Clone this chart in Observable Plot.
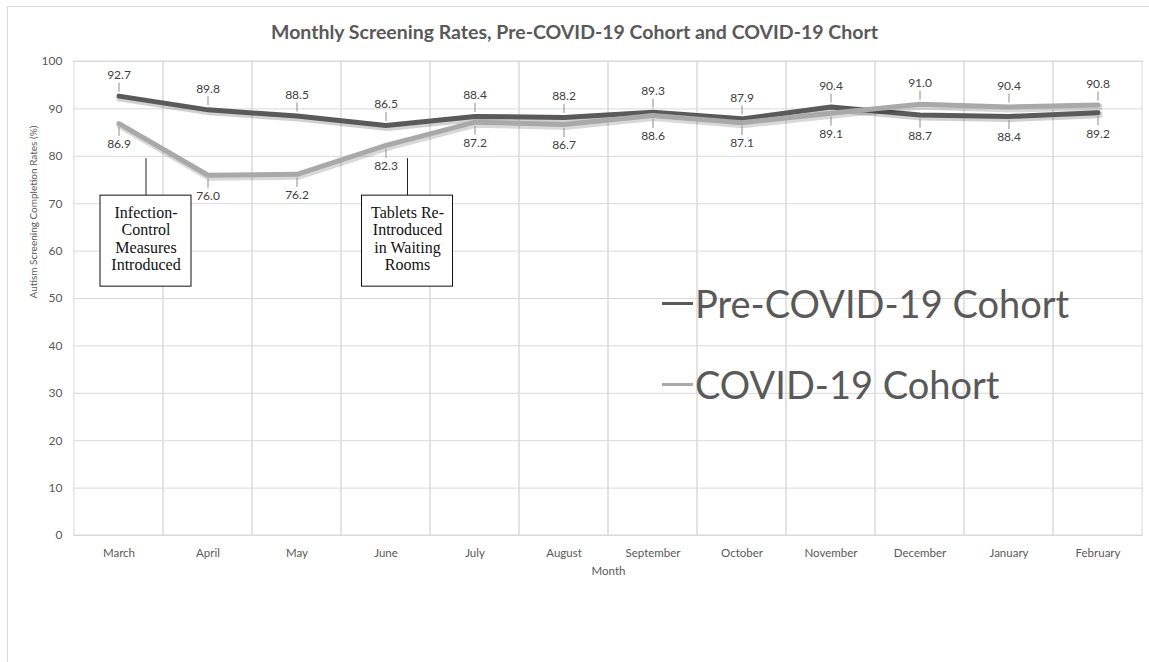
<!DOCTYPE html>
<html>
<head>
<meta charset="utf-8">
<script src="https://cdn.jsdelivr.net/npm/d3@7"></script>
<script src="https://cdn.jsdelivr.net/npm/@observablehq/plot@0.6"></script>
<style>
  body { margin: 0; background: #fff; }
  #wrap { position: relative; width: 1149px; height: 662px; overflow: hidden; background: #fff; font-family: Lato, "Open Sans", sans-serif; }
  #frame { position: absolute; left: 7px; top: 6px; width: 1200px; height: 700px; border: 1px solid #d9d9d9; box-sizing: border-box; }
  #title { position: absolute; left: 0; top: 20px; width: 1149px; text-align: center; font-weight: 700; font-size: 19.5px; color: #595959; line-height: 24px; }
  #chart { position: absolute; left: 0; top: 48px; }
  .leg { position: absolute; left: 662px; color: #595959; font-size: 38px; line-height: 46px; white-space: nowrap; display: flex; align-items: center; }
  .leg .sw { display: inline-block; width: 31px; height: 3px; margin-right: 2px; }
</style>
</head>
<body>
<div id="wrap">
  <div id="frame"></div>
  <div id="title"></div>
  <div id="chart"></div>
  <div id="legend"></div>
</div>
<script>
const chartTitle = "Monthly Screening Rates, Pre-COVID-19 Cohort and COVID-19 Chort";
const months = ["March", "April", "May", "June", "July", "August", "September", "October", "November", "December", "January", "February"];
const preCovid = [92.7, 89.8, 88.5, 86.5, 88.4, 88.2, 89.3, 87.9, 90.4, 88.7, 88.4, 89.2];
const covid = [86.9, 76.0, 76.2, 82.3, 87.2, 86.7, 88.6, 87.1, 89.1, 91.0, 90.4, 90.8];
const seriesNames = ["Pre-COVID-19 Cohort", "COVID-19 Cohort"];
const yTicks = [0, 10, 20, 30, 40, 50, 60, 70, 80, 90, 100];
const yLabel = "Autism Screening Completion Rates (%)";
const xLabel = "Month";
const annotationMonths = ["March", "June"];
const annotationTexts = ["Infection-\nControl\nMeasures\nIntroduced", "Tablets Re-\nIntroduced\nin Waiting\nRooms"];

const colors = ["#5a5a5a", "#a9a9a9"];
// annotation placement (style, not data)
const annStyle = [
  {dx: 27, insetLeft: 26, insetRight: -28},
  {dx: 21.5, insetLeft: 20.5, insetRight: -22.5}
];
const boxTop = 71.7, boxBottom = 52.5, leaderTop = 79.5, textMid = 62.7;

document.getElementById("title").textContent = chartTitle;

const rows = [];
months.forEach((m, i) => {
  rows.push({month: m, s: 0, value: preCovid[i], other: covid[i]});
  rows.push({month: m, s: 1, value: covid[i], other: preCovid[i]});
});
const above = rows.filter(d => d.value > d.other);
const below = rows.filter(d => d.value <= d.other);
const pre = rows.filter(d => d.s === 0);
const cov = rows.filter(d => d.s === 1);
const ann = annotationMonths.map((m, i) => ({month: m, text: annotationTexts[i]}));

const marks = [
  Plot.ruleY(yTicks, {stroke: "#d9d9d9", strokeWidth: 1}),
  Plot.cell(months, {x: d => d, fill: "none", stroke: "#d9d9d9", strokeWidth: 1}),
  Plot.axisY({ticks: yTicks, tickSize: 0, tickPadding: 11, fontSize: 12, label: null}),
  Plot.axisX({tickSize: 0, tickPadding: 13, fontSize: 11.5, label: null}),
  Plot.text([yLabel], {text: d => d, frameAnchor: "left", rotate: -90, dx: -40, fontSize: 10}),
  Plot.text([xLabel], {text: d => d, frameAnchor: "bottom", dy: 39, fontSize: 11.5}),
  // soft shadows under the lines
  Plot.line(pre, {x: "month", y: "value", stroke: "#000", strokeOpacity: 0.18, strokeWidth: 7, dx: 1, dy: 2}),
  Plot.line(pre, {x: "month", y: "value", stroke: colors[0], strokeWidth: 5}),
  Plot.line(cov, {x: "month", y: "value", stroke: "#000", strokeOpacity: 0.15, strokeWidth: 7, dx: 1, dy: 2}),
  Plot.line(cov, {x: "month", y: "value", stroke: colors[1], strokeWidth: 5}),
  Plot.ruleX(above, {x: "month", y1: "value", y2: "value", insetTop: -13, insetBottom: 4, stroke: "#8c8c8c", strokeWidth: 1}),
  Plot.ruleX(below, {x: "month", y1: "value", y2: "value", insetTop: 4, insetBottom: -13, stroke: "#8c8c8c", strokeWidth: 1}),
  Plot.text(above, {x: "month", y: "value", text: d => d.value.toFixed(1), dy: -21, fontSize: 12, fill: "#404040"}),
  Plot.text(below, {x: "month", y: "value", text: d => d.value.toFixed(1), dy: 21, fontSize: 12, fill: "#404040"})
];
ann.forEach((a, i) => {
  const st = annStyle[i];
  marks.push(Plot.ruleX([a], {x: "month", y1: boxTop, y2: leaderTop, dx: st.dx, stroke: "#222", strokeWidth: 1}));
  marks.push(Plot.barY([a], {x: "month", y1: boxBottom, y2: boxTop, insetLeft: st.insetLeft, insetRight: st.insetRight, fill: "#fff", stroke: "#111", strokeWidth: 1}));
  marks.push(Plot.text([a], {x: "month", y: textMid, text: "text", dx: st.dx, fontFamily: "Liberation Serif, 'Times New Roman', serif", fontSize: 16, lineHeight: 1.1, fill: "#111"}));
});

const svg = Plot.plot({
  width: 1149,
  height: 614,
  marginTop: 13,
  marginBottom: 127,
  marginLeft: 73,
  marginRight: 6,
  x: {type: "band", domain: months, padding: 0, label: null},
  y: {domain: [0, 100], label: null},
  style: {fontFamily: "Lato, 'Open Sans', sans-serif", color: "#595959", background: "transparent", overflow: "visible"},
  marks
});
document.getElementById("chart").appendChild(svg);

const legend = document.getElementById("legend");
const legTops = [280, 361];
seriesNames.forEach((name, i) => {
  const row = document.createElement("div");
  row.className = "leg";
  row.style.top = legTops[i] + "px";
  const sw = document.createElement("span");
  sw.className = "sw";
  sw.style.background = colors[i];
  row.appendChild(sw);
  row.appendChild(document.createTextNode(name));
  legend.appendChild(row);
});
</script>
</body>
</html>
